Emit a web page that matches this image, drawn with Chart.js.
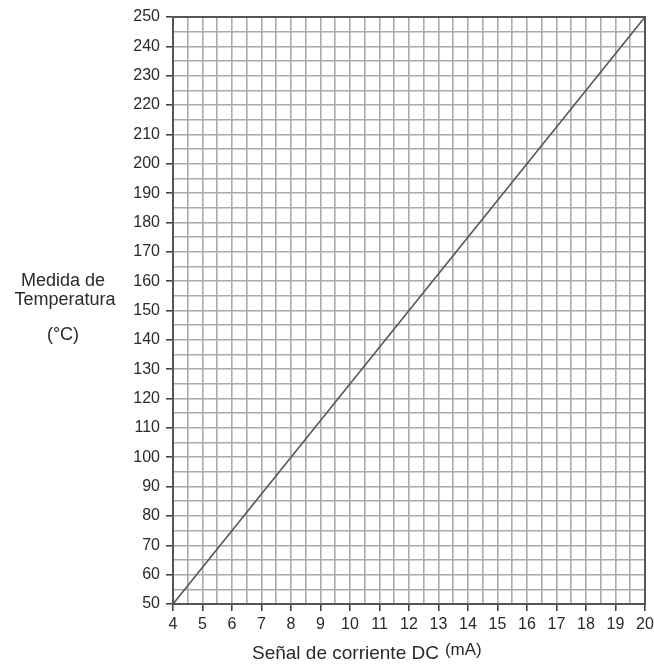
<!DOCTYPE html>
<html>
<head>
<meta charset="utf-8">
<script src="https://cdn.jsdelivr.net/npm/chart.js@4"></script>
<style>
  html, body { margin: 0; padding: 0; background: #fff; }
  #wrap { width: 654px; height: 666px; position: relative; }
</style>
</head>
<body>
<div id="wrap"><canvas id="c" width="654" height="666"></canvas></div>
<script>
const currentMA = [4, 20];
const temperatureC = [50, 250];
const xRange = [4, 20];
const yRange = [50, 250];
const yTitleLines = ['Medida de', 'Temperatura', '(°C)'];
const xTitleMain = 'Señal de corriente DC';
const xTitleUnit = '(mA)';

const FONT = '"Liberation Sans", Arial, sans-serif';

const framePlugin = {
  id: 'frame',
  afterDatasetsDraw(chart) {
    const a = chart.chartArea, ctx = chart.ctx;
    ctx.save();
    ctx.strokeStyle = '#555';
    ctx.lineWidth = 2;
    ctx.strokeRect(a.left, a.top, a.right - a.left, a.bottom - a.top);
    ctx.restore();
  },
  afterDraw(chart) {
    const ctx = chart.ctx;
    ctx.save();
    ctx.fillStyle = '#2a2a2a';
    ctx.font = '18px ' + FONT;
    ctx.textAlign = 'center';
    ctx.textBaseline = 'alphabetic';
    ctx.fillText(yTitleLines[0], 63, 286);
    ctx.fillText(yTitleLines[1], 65, 305);
    ctx.fillText(yTitleLines[2], 63, 340);
    ctx.textAlign = 'left';
    ctx.font = '19px ' + FONT;
    ctx.fillText(xTitleMain, 252, 659);
    const w = ctx.measureText(xTitleMain).width;
    ctx.font = '17px ' + FONT;
    ctx.fillText(xTitleUnit, 252 + w + 6, 655);
    ctx.restore();
  }
};

new Chart(document.getElementById('c'), {
  type: 'scatter',
  data: {
    datasets: [{
      data: currentMA.map((x, i) => ({ x: x, y: temperatureC[i] })),
      showLine: true,
      borderColor: '#555',
      borderWidth: 1.6,
      pointRadius: 0,
      fill: false
    }]
  },
  options: {
    responsive: false,
    animation: false,
    layout: { padding: { top: 17, right: 9, left: 0, bottom: 0 } },
    plugins: { legend: { display: false }, tooltip: { enabled: false } },
    scales: {
      x: {
        type: 'linear',
        min: xRange[0], max: xRange[1],
        afterFit(s) { s.height = 62; s.paddingRight = 0; s.paddingLeft = 0; },
        ticks: {
          stepSize: 0.5,
          autoSkip: false,
          maxRotation: 0,
          padding: 4,
          color: '#2a2a2a',
          font: { family: FONT, size: 16 },
          callback: v => Number.isInteger(v) ? String(v) : ''
        },
        grid: {
          color: '#aaa',
          lineWidth: 1.6,
          tickLength: 7,
          tickColor: ctx => (ctx.tick && Number.isInteger(ctx.tick.value)) ? '#444' : 'rgba(0,0,0,0)',
          tickWidth: 1.6
        },
        border: { color: '#555', width: 2 }
      },
      y: {
        type: 'linear',
        min: yRange[0], max: yRange[1],
        afterFit(s) { s.width = 173; },
        ticks: {
          stepSize: 5,
          autoSkip: false,
          padding: 6,
          color: '#2a2a2a',
          font: { family: FONT, size: 16 },
          callback: v => (v % 10 === 0) ? String(v) : ''
        },
        grid: {
          color: '#aaa',
          lineWidth: 1.6,
          tickLength: 7,
          tickColor: ctx => (ctx.tick && ctx.tick.value % 10 === 0) ? '#444' : 'rgba(0,0,0,0)',
          tickWidth: 1.6
        },
        border: { color: '#555', width: 2 }
      }
    }
  },
  plugins: [framePlugin]
});
</script>
</body>
</html>
